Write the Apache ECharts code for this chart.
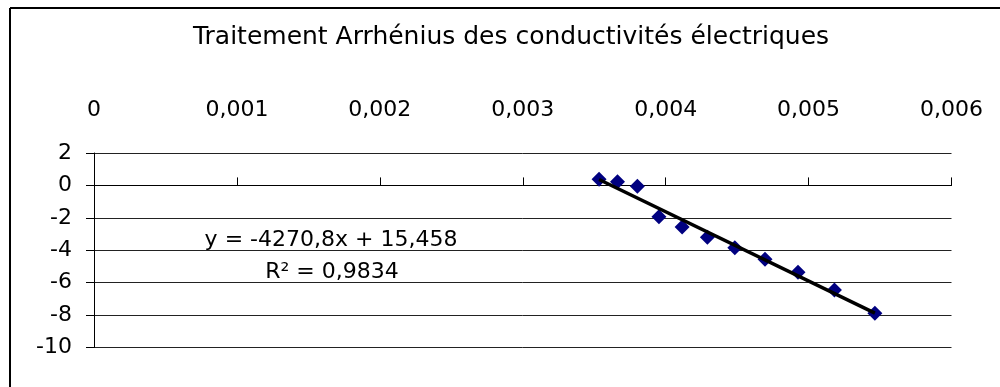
<!DOCTYPE html>
<html>
<head>
<meta charset="utf-8">
<script src="https://cdn.jsdelivr.net/npm/echarts@6/dist/echarts.min.js"></script>
<style>
html,body{margin:0;padding:0;background:#fff;overflow:hidden;}
#chart{width:1000px;height:387px;}
</style>
</head>
<body>
<div id="chart"></div>
<script>
// ---- data ----
const chartTitle = 'Traitement Arrhénius des conductivités électriques';
const invT = [0.003534, 0.003663, 0.003802, 0.003953, 0.004115, 0.004292, 0.004484, 0.004695, 0.004926, 0.005181, 0.005464];
const lnSigma = [0.38, 0.22, -0.05, -1.93, -2.56, -3.20, -3.84, -4.56, -5.36, -6.45, -7.89];
const xTickLabels = ['0', '0,001', '0,002', '0,003', '0,004', '0,005', '0,006'];
const yTickLabels = ['-10', '-8', '-6', '-4', '-2', '0', '2'];
const trendSlope = -4270.8;
const trendIntercept = 15.458;
const trendEquation = 'y = -4270,8x + 15,458';
const trendR2 = 'R² = 0,9834';

// ---- build chart ----
const FONT = 'DejaVu Sans';
const xStep = 0.001, yMin = -10, yMax = 2, yStep = 2;
const scatterData = invT.map((x, i) => [x, lnSigma[i]]);
const xLo = Math.min(...invT), xHi = Math.max(...invT);
const trendData = [[xLo, trendSlope * xLo + trendIntercept], [xHi, trendSlope * xHi + trendIntercept]];

const plotTop = 153, plotBottom = 39.5, H = 387;
const plotH = H - plotTop - plotBottom;
const zeroY = plotTop + plotH * (yMax - 0) / (yMax - yMin); // pixel row of value 0

const chart = echarts.init(document.getElementById('chart'), null, {renderer: 'canvas'});
chart.setOption({
  animation: false,
  backgroundColor: '#fff',
  title: {
    text: chartTitle,
    left: 511, top: 25, padding: 0, textAlign: 'center',
    textStyle: {fontFamily: FONT, fontSize: 25, fontWeight: 'normal', color: '#000'}
  },
  grid: [
    {left: 94, right: 48.5, top: plotTop, bottom: plotBottom, containLabel: false},
    {left: 94, right: 48.5, top: zeroY - 20, bottom: H - zeroY, containLabel: false}
  ],
  xAxis: [
    {
      gridIndex: 0, type: 'value', position: 'top', min: 0, max: 0.006, interval: xStep,
      axisLine: {show: false}, axisTick: {show: false}, splitLine: {show: false},
      axisLabel: {
        margin: 32, fontFamily: FONT, fontSize: 22, color: '#000',
        showMinLabel: true, showMaxLabel: true,
        formatter: v => xTickLabels[Math.round(v / xStep)]
      }
    },
    {
      gridIndex: 1, type: 'value', position: 'bottom', min: 0, max: 0.006, interval: xStep,
      axisLine: {show: true, onZero: false, lineStyle: {color: '#000', width: 1}},
      axisTick: {show: true, inside: true, length: 8, lineStyle: {color: '#000', width: 1}},
      axisLabel: {show: false}, splitLine: {show: false}
    }
  ],
  yAxis: [
    {
      gridIndex: 0, type: 'value', min: yMin, max: yMax, interval: yStep,
      axisLine: {show: true, onZero: false, lineStyle: {color: '#000', width: 1}},
      axisTick: {show: true, length: 8, lineStyle: {color: '#000', width: 1}},
      axisLabel: {
        margin: 22, fontFamily: FONT, fontSize: 22, color: '#000',
        formatter: v => yTickLabels[Math.round((v - yMin) / yStep)]
      },
      splitLine: {show: true, lineStyle: {color: '#222', width: 1}}
    },
    {
      gridIndex: 1, type: 'value', min: 0, max: 1, show: false
    }
  ],
  series: [
    {
      type: 'scatter', xAxisIndex: 0, yAxisIndex: 0, data: scatterData,
      symbol: 'diamond', symbolSize: 15,
      itemStyle: {color: '#000080', opacity: 1}, z: 2
    },
    {
      type: 'line', xAxisIndex: 0, yAxisIndex: 0, data: trendData,
      symbol: 'none', lineStyle: {color: '#000', width: 3.5}, z: 3, silent: true
    }
  ],
  graphic: [
    {type: 'line', shape: {x1: 10, y1: 8, x2: 10, y2: 387}, style: {stroke: '#000', lineWidth: 2}, silent: true},
    {type: 'line', shape: {x1: 10, y1: 8, x2: 1000, y2: 8}, style: {stroke: '#000', lineWidth: 2}, silent: true},
    {type: 'text', x: 331, y: 240, style: {text: trendEquation, font: '22px "DejaVu Sans"', fill: '#000', textAlign: 'center', textVerticalAlign: 'middle'}},
    {type: 'text', x: 332, y: 272, style: {text: trendR2, font: '22px "DejaVu Sans"', fill: '#000', textAlign: 'center', textVerticalAlign: 'middle'}}
  ]
});
</script>
</body>
</html>
